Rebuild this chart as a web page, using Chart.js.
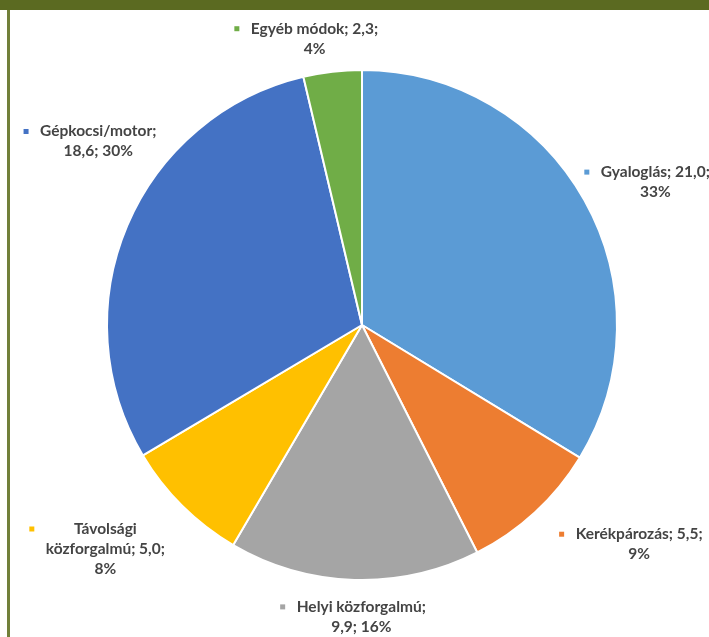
<!DOCTYPE html>
<html>
<head>
<meta charset="utf-8">
<script src="https://cdn.jsdelivr.net/npm/chart.js@4"></script>
<style>
  html, body { margin: 0; padding: 0; background: #ffffff; }
  #wrap { position: relative; width: 709px; height: 637px; overflow: hidden; background: #ffffff; }
  #wrap canvas { position: absolute; left: 0; top: 0; }
  #band { position: absolute; left: 0; top: 0; width: 709px; height: 10px; background: #5b6a21; }
  #edge { position: absolute; left: 7px; top: 10px; width: 3px; height: 627px; background: #71803a; }
</style>
</head>
<body>
<div id="wrap">
  <canvas id="chart" width="709" height="637"></canvas>
  <div id="band"></div>
  <div id="edge"></div>
</div>
<script>
// Travel modes (million trips) and their shares
const categories = ['Gyaloglás', 'Kerékpározás', 'Helyi közforgalmú', 'Távolsági közforgalmú', 'Gépkocsi/motor', 'Egyéb módok'];
const values = [21.0, 5.5, 9.9, 5.0, 18.6, 2.3];
const percents = [33, 9, 16, 8, 30, 4];
const colors = ['#5b9bd5', '#ed7d31', '#a5a5a5', '#ffc000', '#4472c4', '#70ad47'];

function labelText(i) {
  const v = values[i].toFixed(1).replace('.', ',');
  return categories[i] + '; ' + v + '; ' + percents[i] + '%';
}

// Draws the outside data labels with a small colour key before each block
const sliceLabels = {
  id: 'sliceLabels',
  afterDatasetsDraw(chart, args, opts) {
    const ctx = chart.ctx;
    const meta = chart.getDatasetMeta(0);
    ctx.save();
    ctx.font = opts.font;
    ctx.textAlign = 'center';
    ctx.textBaseline = 'middle';
    meta.data.forEach((arc, i) => {
      const p = arc.getProps(['x', 'y', 'startAngle', 'endAngle', 'outerRadius'], true);
      const mid = (p.startAngle + p.endAngle) / 2;
      const ax = p.x + Math.cos(mid) * p.outerRadius;
      const ay = p.y + Math.sin(mid) * p.outerRadius;
      const place = opts.placement[i];
      const cx = ax + place.dx;
      const cy = ay + place.dy;
      const words = labelText(i).split(' ');
      const lines = [];
      let k = 0;
      place.words.forEach(n => { lines.push(words.slice(k, k + n).join(' ')); k += n; });
      const top = cy - (lines.length - 1) * opts.lineHeight / 2;
      let maxW = 0;
      ctx.fillStyle = opts.color;
      lines.forEach((ln, j) => {
        ctx.fillText(ln, cx, top + j * opts.lineHeight);
        maxW = Math.max(maxW, ctx.measureText(ln).width);
      });
      ctx.fillStyle = colors[i];
      const kx = cx - maxW / 2 - opts.keyGap;
      ctx.fillRect(kx - opts.keySize / 2, top - opts.keySize / 2, opts.keySize, opts.keySize);
    });
    ctx.restore();
  }
};

new Chart(document.getElementById('chart'), {
  type: 'pie',
  data: {
    labels: categories,
    datasets: [{
      data: values,
      backgroundColor: colors,
      borderColor: '#ffffff',
      borderWidth: 2
    }]
  },
  options: {
    responsive: false,
    animation: false,
    layout: { padding: { left: 106, right: 91, top: 69, bottom: 56 } },
    plugins: {
      legend: { display: false },
      tooltip: { enabled: false },
      sliceLabels: {
        font: 'bold 15.5px Lato',
        color: '#444444',
        lineHeight: 20,
        keyGap: 14,
        keySize: 5,
        placement: [
          { dx: 71, dy: -18, words: [2, 1] },
          { dx: 104, dy: 32, words: [2, 1] },
          { dx: 7, dy: 37, words: [2, 2] },
          { dx: -77, dy: 43, words: [1, 2, 1] },
          { dx: -29, dy: -84, words: [1, 2] },
          { dx: -18, dy: -33, words: [3, 1] }
        ]
      }
    }
  },
  plugins: [sliceLabels]
});
</script>
</body>
</html>
